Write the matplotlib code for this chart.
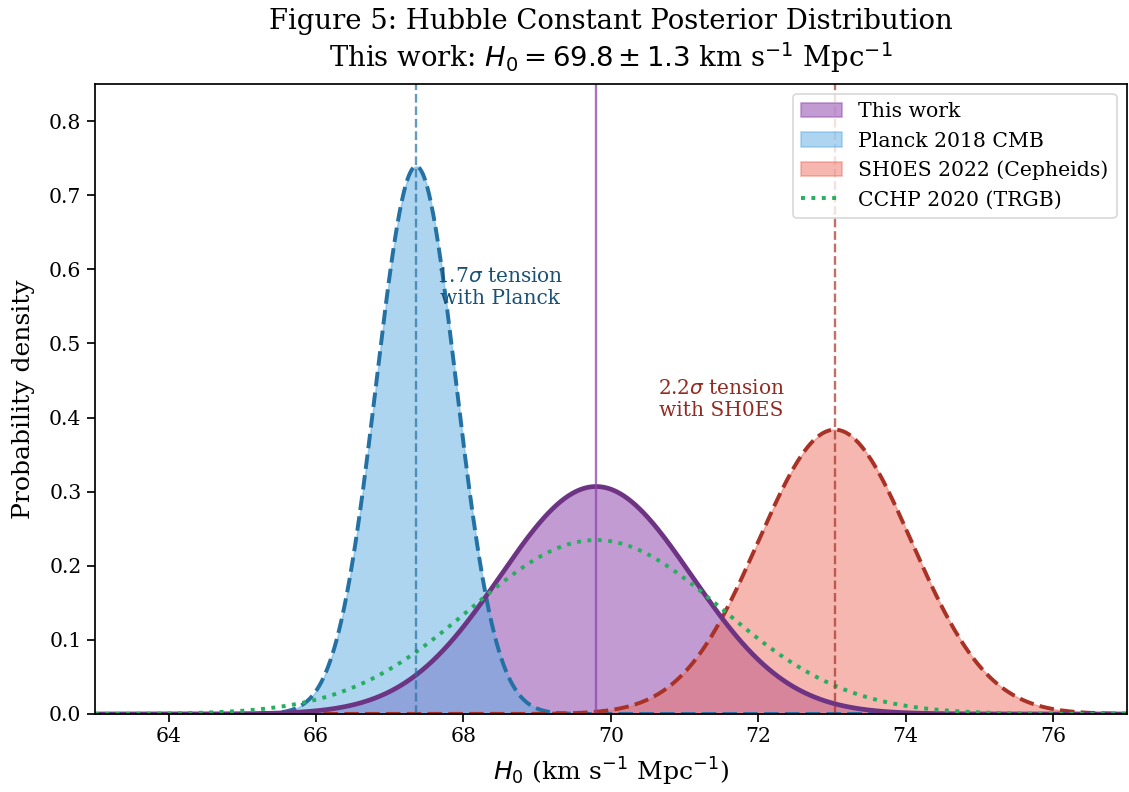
import numpy as np
import matplotlib
matplotlib.use('Agg')
import matplotlib.pyplot as plt

plt.rcParams['font.family'] = 'DejaVu Serif'
plt.rcParams['mathtext.fontset'] = 'dejavusans'

# measurements (mean, sigma) in km/s/Mpc
labels = ['This work', 'Planck 2018 CMB', 'SH0ES 2022 (Cepheids)', 'CCHP 2020 (TRGB)']
means = [69.8, 67.36, 73.04, 69.8]
sigmas = [1.3, 0.54, 1.04, 1.7]
tension_planck = 1.7
tension_shoes = 2.2

def gauss(x, mu, sig):
  return np.exp(-0.5 * ((x - mu) / sig) ** 2) / (sig * np.sqrt(2 * np.pi))

x = np.linspace(63, 77, 1400)

fig, ax = plt.subplots(figsize=(1129 / 113, 792 / 113), dpi=113)

y_this = gauss(x, means[0], sigmas[0])
y_planck = gauss(x, means[1], sigmas[1])
y_shoes = gauss(x, means[2], sigmas[2])
y_cchp = gauss(x, means[3], sigmas[3])

h1 = ax.fill_between(x, y_this, color='#9b59b6', alpha=0.6, label=labels[0])
h2 = ax.fill_between(x, y_planck, color='#5dade2', alpha=0.5, label=labels[1])
h3 = ax.fill_between(x, y_shoes, color='#ec7063', alpha=0.5, label=labels[2])

ax.plot(x, y_planck, color='#2471a3', ls='--', lw=2.5)
ax.plot(x, y_shoes, color='#a93226', ls='--', lw=2.5)
ax.plot(x, y_this, color='#6c3483', lw=3)
h4, = ax.plot(x, y_cchp, color='#27ae60', ls=':', lw=2.5, label=labels[3])

ax.axvline(means[0], color='#8e44ad', lw=1.5, alpha=0.75)
ax.axvline(means[1], color='#2471a3', lw=1.5, ls='--', alpha=0.7)
ax.axvline(means[2], color='#a93226', lw=1.5, ls='--', alpha=0.7)

ax.text(68.5, 0.575, '%.1f$\\sigma$ tension\nwith Planck' % tension_planck, ha='center', va='center',
        fontsize=12.8, color='#1a5276')
ax.text(71.5, 0.424, '%.1f$\\sigma$ tension\nwith SH0ES' % tension_shoes, ha='center', va='center',
        fontsize=12.8, color='#922b21')

ax.set_xlim(63, 77)
ax.set_ylim(0, 0.85)
ax.set_xticks([64, 66, 68, 70, 72, 74, 76])
ax.tick_params(labelsize=13, length=5, width=1.1)
for s in ax.spines.values():
  s.set_linewidth(1.1)
ax.set_xlabel('$H_0$ (km s$^{-1}$ Mpc$^{-1}$)', fontsize=16, labelpad=6)
ax.set_ylabel('Probability density', fontsize=16, labelpad=9)
ax.set_title('Figure 5: Hubble Constant Posterior Distribution\n'
             'This work: $H_0 = %.1f \\pm %.1f$ km s$^{-1}$ Mpc$^{-1}$' % (means[0], sigmas[0]),
             fontsize=17.5, pad=11)
ax.legend(handles=[h1, h2, h3, h4], loc='upper right', fontsize=13)

plt.subplots_adjust(left=0.084, right=0.998, top=0.894, bottom=0.0985)
plt.savefig('out.png', dpi=113)
